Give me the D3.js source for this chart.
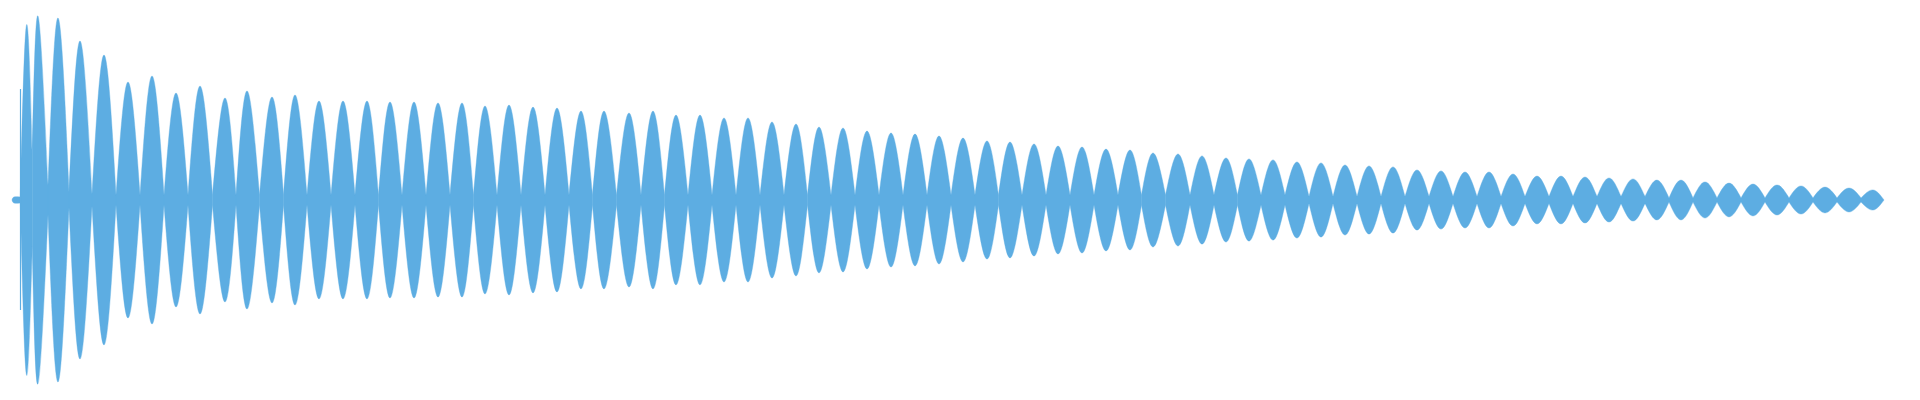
<!DOCTYPE html>
<html>
<head>
<meta charset="utf-8">
<script src="https://cdn.jsdelivr.net/npm/d3@7"></script>
<style>
    html, body { margin: 0; padding: 0; background: #ffffff; }
    #wave { width: 1920px; height: 400px; }
</style>
</head>
<body>
<div id="wave"></div>
<script>
// time of each beat peak (ms) and its normalised amplitude
const clipStart = 6;
const clipEnd = 942;
const peakTimes = [
    7, 13.25, 19, 29, 40, 52, 64, 76, 88, 100,
    112.5, 123.5, 136, 147.5, 159.5, 171.5, 183.5, 195, 207, 219,
    231, 242.5, 254.5, 266.5, 278.5, 290.5, 302, 314.5, 326.5, 338,
    350, 362, 374, 386, 398, 409.5, 421.5, 433.5, 445.5, 457.5,
    469.5, 481.5, 493.5, 505, 517, 529, 541, 553, 565, 576.5,
    589, 601, 613, 624.5, 636.5, 648.5, 660.5, 672.5, 684.5, 696.5,
    708.5, 720.5, 732.5, 744.5, 756.5, 768.5, 780.5, 792.5, 804.5, 816.5,
    828.5, 840.5, 852.5, 864.5, 876.5, 888.5, 900.5, 912.5, 924.5, 936.5
];
const peakAmps = [
    0.016, 0.921, 0.968, 0.958, 0.837, 0.763, 0.621, 0.653, 0.563, 0.600,
    0.537, 0.574, 0.542, 0.553, 0.521, 0.521, 0.521, 0.516, 0.516, 0.511,
    0.511, 0.495, 0.500, 0.489, 0.484, 0.468, 0.468, 0.458, 0.468, 0.447,
    0.447, 0.432, 0.432, 0.411, 0.400, 0.384, 0.379, 0.363, 0.353, 0.347,
    0.337, 0.326, 0.311, 0.305, 0.295, 0.284, 0.279, 0.268, 0.263, 0.247,
    0.242, 0.232, 0.221, 0.216, 0.211, 0.200, 0.195, 0.184, 0.179, 0.174,
    0.158, 0.153, 0.147, 0.147, 0.137, 0.126, 0.126, 0.121, 0.116, 0.111,
    0.105, 0.105, 0.095, 0.089, 0.084, 0.079, 0.074, 0.068, 0.063, 0.053
];
// amplitude left at the "neck" between two beats (one more than peaks)
const neckAmps = [
    0, 0.016, 0.247, 0.079, 0.042, 0.032, 0.026, 0.026, 0.026, 0.026,
    0.026, 0.026, 0.026, 0.026, 0.026, 0.026, 0.026, 0.026, 0.026, 0.026,
    0.026, 0.026, 0.026, 0.026, 0.026, 0.026, 0.026, 0.026, 0.026, 0.026,
    0.026, 0.026, 0.026, 0.026, 0.026, 0.026, 0.026, 0.026, 0.026, 0.026,
    0.026, 0.026, 0.026, 0.026, 0.026, 0.026, 0.026, 0.026, 0.026, 0.026,
    0.026, 0.026, 0.026, 0.026, 0.026, 0.026, 0.018, 0.018, 0.018, 0.018,
    0.018, 0.018, 0.018, 0.018, 0.018, 0.018, 0.018, 0.018, 0.018, 0.018,
    0.018, 0.011, 0.011, 0.011, 0.011, 0.011, 0.011, 0.011, 0.011, 0.011,
    0
];
// the single click near the start
const clickTimes = [10.25];
const clickTop = [0.584];
const clickBottom = [-0.579];

const WAVE_COLOR = "#5dade2";
const width = 1920;
const height = 400;

var svg = d3.select("#wave")
    .append("svg")
    .attr("width", width)
    .attr("height", height);

var x = d3.scaleLinear()
    .domain([0, 960])
    .range([0, width]);

var y = d3.scaleLinear()
    .domain([-1, 1])
    .range([390, 10]);

// neck positions sit half way between neighbouring peaks
var necks = [clipStart];
for (let i = 1; i < peakTimes.length; i++) {
    necks.push((peakTimes[i - 1] + peakTimes[i]) / 2);
}
necks.push(clipEnd);

var lobeArea = d3.area()
    .curve(d3.curveNatural)
    .x(d => x(d.t))
    .y0(d => y(-d.a))
    .y1(d => y(d.a));

var lobes = peakTimes.map((t, i) => [
    {t: necks[i], a: neckAmps[i]},
    {t: t, a: peakAmps[i]},
    {t: necks[i + 1], a: neckAmps[i + 1]}
]);

svg.append("g")
    .selectAll("path")
    .data(lobes)
    .enter()
    .append("path")
      .attr("d", lobeArea)
      .attr("fill", WAVE_COLOR)
      .attr("stroke", WAVE_COLOR)
      .attr("stroke-width", 0.4);

svg.append("g")
    .selectAll("line")
    .data(clickTimes)
    .enter()
    .append("line")
      .attr("x1", d => x(d))
      .attr("x2", d => x(d))
      .attr("y1", (d, i) => y(clickTop[i]))
      .attr("y2", (d, i) => y(clickBottom[i]))
      .attr("stroke", WAVE_COLOR)
      .attr("stroke-width", 1.2);
</script>
</body>
</html>
